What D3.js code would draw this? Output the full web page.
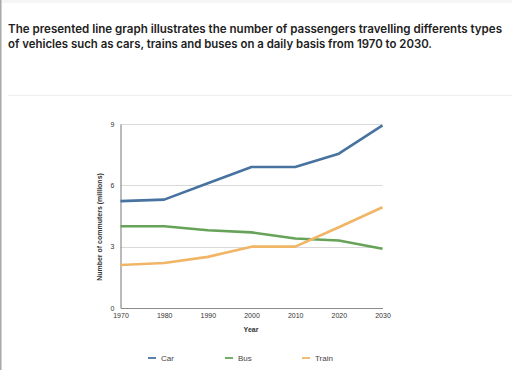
<!DOCTYPE html>
<html>
<head>
<meta charset="utf-8">
<script src="https://cdn.jsdelivr.net/npm/d3@7"></script>
<style>
body { margin: 0; background: #fff; }
</style>
</head>
<body>
<div id="chart"></div>
<script>
var w = 512;
var h = 370;

var years = [1970, 1980, 1990, 2000, 2010, 2020, 2030];
var carValues = [5.23, 5.3, 6.1, 6.9, 6.9, 7.55, 8.93];
var busValues = [4.0, 4.0, 3.8, 3.7, 3.4, 3.3, 2.9];
var trainValues = [2.1, 2.2, 2.5, 3.0, 3.0, 3.95, 4.93];
var seriesNames = ["Car", "Bus", "Train"];
var seriesColors = ["#4873a0", "#66a358", "#f1b566"];
var yTicks = [0, 3, 6, 9];

var svg = d3.select("#chart")
    .append("svg")
    .attr("width", w)
    .attr("height", h);

// page frame bits
svg.append("rect").attr("x", 0).attr("y", 0).attr("width", w).attr("height", 3).attr("fill", "#f6f6f6");
svg.append("rect").attr("x", 0).attr("y", 0).attr("width", 1.5).attr("height", h).attr("fill", "#a8a8a8");
svg.append("line").attr("x1", 8).attr("x2", w).attr("y1", 95.5).attr("y2", 95.5)
    .attr("stroke", "#eeeeee").attr("stroke-width", 1);

var title = svg.append("text")
    .style("font-family", "Inter, 'Open Sans', sans-serif")
    .style("font-weight", "600")
    .style("font-size", "11.5px")
    .attr("fill", "#222");
title.append("tspan").attr("x", 8).attr("y", 33).attr("textLength", 494).attr("lengthAdjust", "spacingAndGlyphs")
    .text("The presented line graph illustrates the number of passengers travelling differents types");
title.append("tspan").attr("x", 8).attr("y", 48).attr("textLength", 424).attr("lengthAdjust", "spacingAndGlyphs")
    .text("of vehicles such as cars, trains and buses on a daily basis from 1970 to 2030.");

var xScale = d3.scaleLinear().domain([1970, 2030]).range([120.5, 382.5]);
var yScale = d3.scaleLinear().domain([0, 9]).range([308, 124]);

var plot = svg.append("g").style("font-family", "'Liberation Sans', Arial, sans-serif");

// gridlines
plot.selectAll(".grid")
    .data(yTicks.filter(function(d) { return d > 0; }))
    .enter().append("line")
    .attr("x1", xScale(1970)).attr("x2", xScale(2030))
    .attr("y1", function(d) { return Math.round(yScale(d)) + 0.5; })
    .attr("y2", function(d) { return Math.round(yScale(d)) + 0.5; })
    .attr("stroke", "#d9d9d9").attr("stroke-width", 1);

var yAxis = d3.axisLeft(yScale).tickValues(yTicks).tickSize(0).tickPadding(6);
var xAxis = d3.axisBottom(xScale).tickValues(years).tickFormat(d3.format("d")).tickSize(0).tickPadding(5);

var gy = plot.append("g").attr("transform", "translate(" + xScale(1970) + ",0)").call(yAxis);
var gx = plot.append("g").attr("transform", "translate(0," + yScale(0) + ")").call(xAxis);
[gx, gy].forEach(function(g) {
    g.select(".domain").attr("stroke", "#8c8c8c").attr("stroke-width", 1.2);
    g.selectAll("text").attr("fill", "#333").style("font-size", "7px");
});

plot.append("text")
    .attr("x", 251).attr("y", 332)
    .attr("text-anchor", "middle")
    .style("font-size", "7px").style("font-weight", "bold").attr("fill", "#333")
    .text("Year");

plot.append("text")
    .attr("transform", "translate(102," + 227 + ") rotate(-90)")
    .attr("text-anchor", "middle")
    .style("font-size", "7px").style("font-weight", "bold").attr("fill", "#333")
    .text("Number of commuters (millions)");

var allSeries = [carValues, busValues, trainValues];
var line = d3.line()
    .x(function(d, i) { return xScale(years[i]); })
    .y(function(d) { return yScale(d); });

plot.selectAll(".series")
    .data(allSeries)
    .enter().append("path")
    .attr("d", line)
    .attr("fill", "none")
    .attr("stroke", function(d, i) { return seriesColors[i]; })
    .attr("stroke-width", 2.6)
    .attr("stroke-linejoin", "round");

// legend
var legendX = d3.scalePoint().domain(seriesNames).range([148, 302]);
var legend = plot.selectAll(".legend")
    .data(seriesNames)
    .enter().append("g")
    .attr("transform", function(d) { return "translate(" + legendX(d) + ",358)"; });

legend.append("line")
    .attr("x1", 0).attr("x2", 8).attr("y1", 0).attr("y2", 0)
    .attr("stroke", function(d, i) { return seriesColors[i]; })
    .attr("stroke-width", 1.8);

legend.append("text")
    .attr("x", 13).attr("y", 3)
    .style("font-size", "8px").attr("fill", "#444")
    .text(function(d) { return d; });
</script>
</body>
</html>
